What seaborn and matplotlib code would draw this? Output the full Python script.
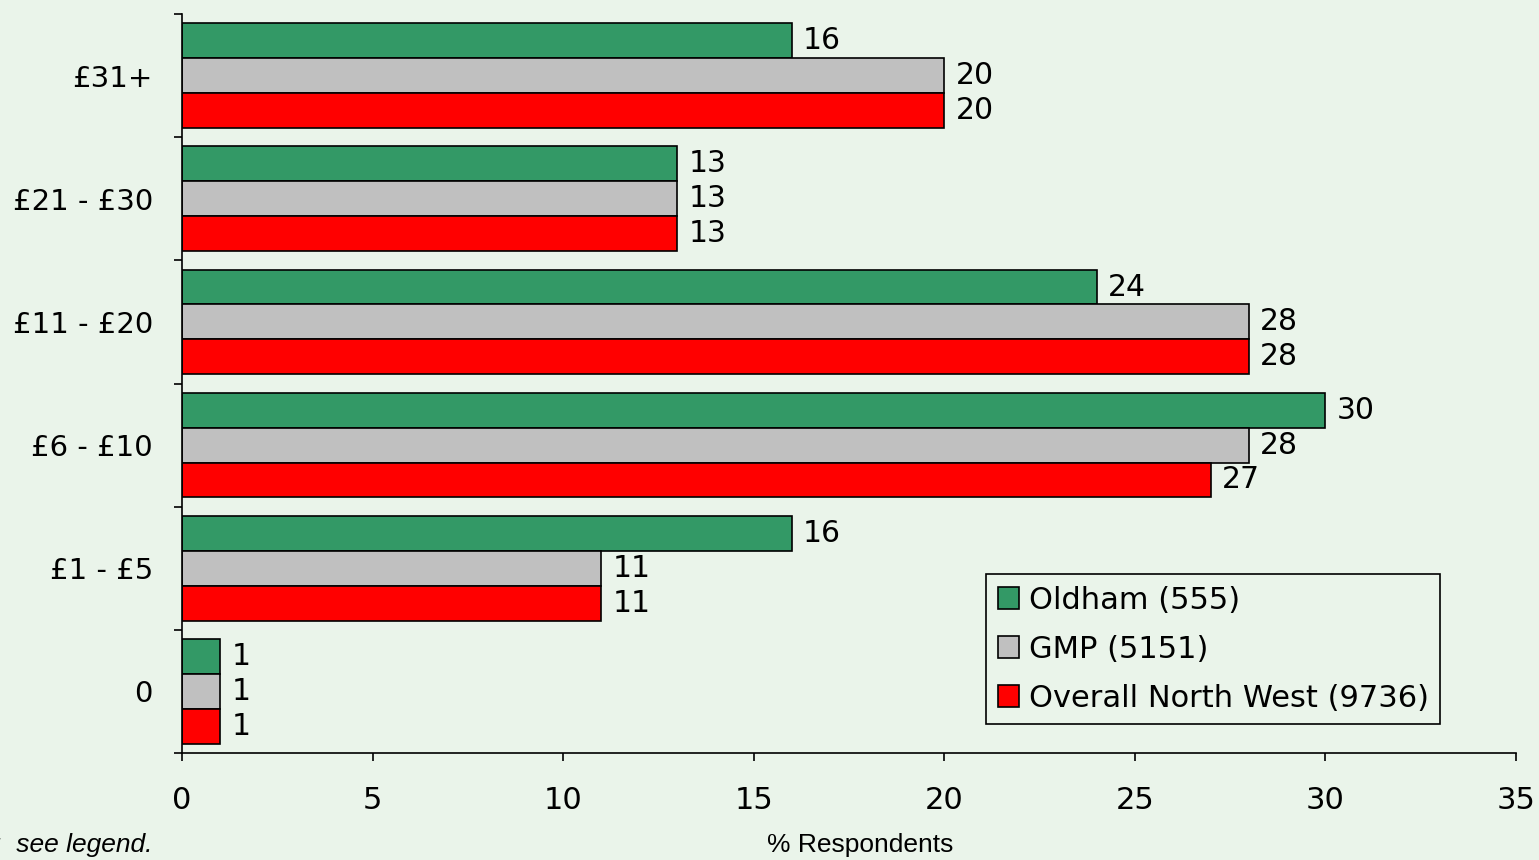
import pandas as pd
import matplotlib
matplotlib.use("Agg")
import matplotlib.pyplot as plt
import seaborn as sns

# categories (top to bottom) and series values
categories = ["£31+", "£21 - £30", "£11 - £20", "£6 - £10", "£1 - £5", "0"]
oldham = [16, 13, 24, 30, 16, 1]
gmp = [20, 13, 28, 28, 11, 1]
north_west = [20, 13, 28, 27, 11, 1]
series_names = ["Oldham (555)", "GMP (5151)", "Overall North West (9736)"]
colours = ["#339966", "#C0C0C0", "#FF0000"]

rows = []
for name, vals in zip(series_names, [oldham, gmp, north_west]):
    for cat, v in zip(categories, vals):
        rows.append({"Category": cat, "Area": name, "Percent": v})
df = pd.DataFrame(rows)

bg = "#EAF4EA"
sns.set_theme(style="white")
plt.rcParams["font.family"] = ["DejaVu Sans"]
plt.rcParams["text.color"] = "black"
plt.rcParams["xtick.color"] = "black"
plt.rcParams["ytick.color"] = "black"

fig = plt.figure(figsize=(15.39, 8.6), dpi=100, facecolor=bg)
ax = fig.add_axes([182 / 1539, 1 - 753 / 860, (1516 - 182) / 1539, (753 - 14) / 860])
ax.set_facecolor(bg)

sns.barplot(data=df, y="Category", x="Percent", hue="Area", order=categories,
            hue_order=series_names, palette=colours, saturation=1, width=0.85,
            edgecolor="black", linewidth=1.2, orient="h", ax=ax)

for cont in ax.containers:
    ax.bar_label(cont, fmt="%g", padding=8, fontsize=21.5, color="black")

ax.set_xlim(0, 35)
ax.set_ylim(5.5, -0.5)
ax.set_xticks(range(0, 36, 5))
ax.set_yticks(range(len(categories)))
ax.set_yticks([i - 0.5 for i in range(len(categories) + 1)], minor=True)
ax.tick_params(axis="y", which="major", length=0, pad=21, labelsize=21, labelcolor="black")
ax.tick_params(axis="y", which="minor", length=6, width=1.2, color="black", direction="out", left=True)
ax.tick_params(axis="x", which="major", length=6, width=1.2, color="black", direction="out",
               bottom=True, pad=18, labelsize=22, labelcolor="black")
for s in ["top", "right"]:
    ax.spines[s].set_visible(False)
for s in ["left", "bottom"]:
    ax.spines[s].set_color("black")
    ax.spines[s].set_linewidth(1.2)

ax.set_xlabel("")
ax.set_ylabel("")
fig.text(860 / 1539, 1 - 845 / 860, "% Respondents", ha="center", va="center",
         fontsize=19, family="Liberation Sans", color="black")
fig.text(153 / 1539, 1 - 845 / 860, "Base:  see legend.", ha="right", va="center",
         fontsize=19, family="Liberation Sans", style="italic", color="black")

leg = ax.legend(loc="lower left", bbox_to_anchor=(0.603, 0.039), borderaxespad=0,
                fontsize=22, frameon=True, fancybox=False, framealpha=1, facecolor=bg,
                edgecolor="black", handlelength=0.7, handleheight=0.7,
                handletextpad=0.3, labelspacing=0.65, borderpad=0.38, title=None)
leg.get_frame().set_linewidth(1.2)
for t in leg.get_texts():
    t.set_color("black")

fig.savefig("out.png", dpi=100, facecolor=bg)
